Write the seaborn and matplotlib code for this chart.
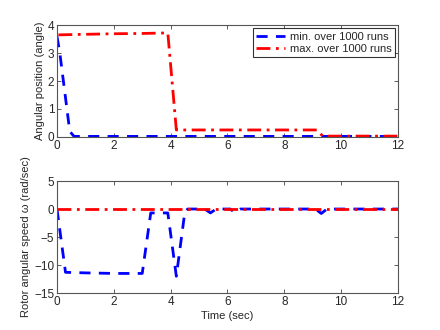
import numpy as np
import pandas as pd
import matplotlib
matplotlib.use('Agg')
import matplotlib.pyplot as plt
import seaborn as sns

# angular position, min / max over 1000 runs
pos_min_t = [0, 0.1, 0.45, 0.6, 2.0, 4.0, 6.0, 8.0, 10.0, 12.0]
pos_min_y = [3.6, 3.0, 0.2, 0.02, 0.02, 0.02, 0.02, 0.02, 0.02, 0.02]
pos_max_t = [0.05, 1.0, 2.0, 3.0, 3.9, 4.2, 6.0, 8.0, 9.15, 9.35, 10.0, 12.0]
pos_max_y = [3.65, 3.67, 3.69, 3.7, 3.72, 0.25, 0.25, 0.25, 0.25, 0.03, 0.03, 0.03]

# rotor angular speed, min / max over 1000 runs
spd_min_t = [0, 0.3, 1.0, 2.0, 3.0, 3.3, 3.9, 4.2, 4.5, 4.6, 5.2, 5.4, 5.6,
             6.1, 6.25, 6.45, 7.0, 8.0, 9.1, 9.3, 9.5, 10.0, 12.0]
spd_min_y = [0, -11.3, -11.4, -11.5, -11.5, -0.7, -0.7, -12.0, -0.5, 0, 0, -0.7, 0,
             0, -0.6, 0, 0, 0, 0, -0.8, 0, 0, 0]
spd_max_t = [0, 12.0]
spd_max_y = [0, 0]

sns.set_style('ticks')
plt.rcParams['font.family'] = ['Liberation Sans', 'DejaVu Sans']
plt.rcParams['font.size'] = 8.5

fig = plt.figure(figsize=(4.4, 3.3), dpi=100)
ax1 = fig.add_axes([0.1295, 0.585, 0.775, 0.339])
ax2 = fig.add_axes([0.1295, 0.112, 0.775, 0.3395])

blue = '#0000ff'
red = '#ff0000'

d1 = pd.DataFrame({'t': pos_min_t, 'y': pos_min_y})
d2 = pd.DataFrame({'t': pos_max_t, 'y': pos_max_y})
sns.lineplot(data=d1, x='t', y='y', ax=ax1, color=blue, lw=2, label='min. over 1000 runs')
sns.lineplot(data=d2, x='t', y='y', ax=ax1, color=red, lw=2, label='max. over 1000 runs')
ax1.lines[0].set_dashes([4, 3])
ax1.lines[1].set_dashes([5, 2, 1, 2])

d3 = pd.DataFrame({'t': spd_min_t, 'y': spd_min_y})
d4 = pd.DataFrame({'t': spd_max_t, 'y': spd_max_y})
sns.lineplot(data=d3, x='t', y='y', ax=ax2, color=blue, lw=2)
sns.lineplot(data=d4, x='t', y='y', ax=ax2, color=red, lw=2)
ax2.lines[0].set_dashes([4, 3])
ax2.lines[1].set_dashes([5, 2, 1, 2])

ax1.set_xlim(0, 12)
ax1.set_ylim(0, 4)
ax1.set_yticks([0, 1, 2, 3, 4])
ax2.set_xlim(0, 12)
ax2.set_ylim(-15, 5)
ax2.set_yticks([-15, -10, -5, 0, 5])
for ax in (ax1, ax2):
    ax.set_xticks(range(0, 13, 2))
    ax.tick_params(direction='in', top=True, right=True, length=3, width=0.6,
                   color='#444444', labelsize=8.5, pad=2)
    for s in ax.spines.values():
        s.set_linewidth(0.8)
        s.set_color('#555555')
    ax.set_xlabel('')

ax1.set_ylabel('Angular position (angle)', fontsize=8, labelpad=2)
ax2.set_ylabel('Rotor angular speed \u03c9 (rad/sec)', fontsize=8, labelpad=2)
ax2.set_xlabel('Time (sec)', fontsize=8, labelpad=2)

leg = ax1.legend(loc='upper right', fontsize=8, frameon=True, fancybox=False,
                 handlelength=2.6, borderpad=0.3, labelspacing=0.2,
                 borderaxespad=0.3, handletextpad=0.4)
leg.get_frame().set_edgecolor('black')
leg.get_frame().set_linewidth(0.8)

fig.savefig('out.png', dpi=100)
